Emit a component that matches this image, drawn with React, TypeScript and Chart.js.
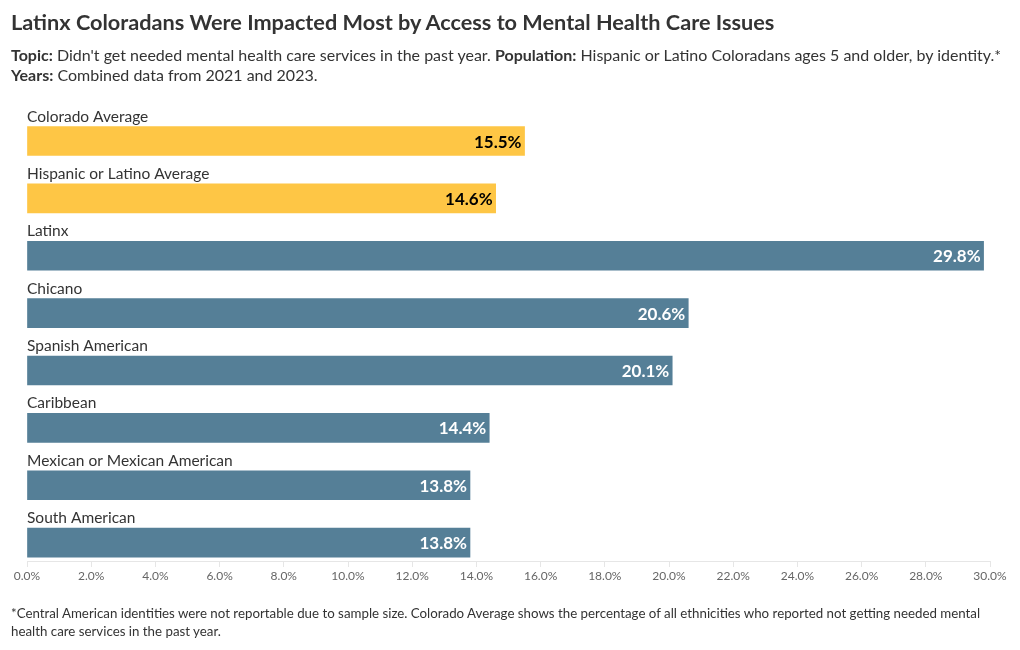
import React, { useEffect, useRef } from "react";
import { Chart, registerables } from "chart.js";

Chart.register(...registerables);

const categories = [
  "Colorado Average",
  "Hispanic or Latino Average",
  "Latinx",
  "Chicano",
  "Spanish American",
  "Caribbean",
  "Mexican or Mexican American",
  "South American",
];
const values = [15.5, 14.6, 29.8, 20.6, 20.1, 14.4, 13.8, 13.8];
const isAverage = [true, true, false, false, false, false, false, false];
const xTicks = [0, 2, 4, 6, 8, 10, 12, 14, 16, 18, 20, 22, 24, 26, 28, 30];

const FONT = "Lato, 'Noto Sans', sans-serif";
const YELLOW = "#FEC645";
const BLUE = "#557F97";

const labelPlugin = {
  id: "barLabels",
  afterDatasetsDraw(chart: any) {
    const ctx = chart.ctx;
    const meta = chart.getDatasetMeta(0);
    const area = chart.chartArea;
    ctx.save();
    meta.data.forEach((bar: any, i: number) => {
      const props = bar.getProps(["x", "y", "height"], true);
      const top = props.y - props.height / 2;
      ctx.font = `400 15.5px ${FONT}`;
      ctx.fillStyle = "#333333";
      ctx.textAlign = "left";
      ctx.textBaseline = "alphabetic";
      ctx.fillText(categories[i], area.left, top - 5);
      ctx.font = `700 17px ${FONT}`;
      ctx.fillStyle = isAverage[i] ? "#000000" : "#ffffff";
      ctx.textAlign = "right";
      ctx.textBaseline = "middle";
      ctx.fillText(values[i].toFixed(1) + "%", props.x - 3, props.y + 1);
    });
    ctx.restore();
  },
};

export default function App() {
  const ref = useRef<HTMLCanvasElement>(null);
  useEffect(() => {
    if (!ref.current) return;
    const chart = new Chart(ref.current, {
      type: "bar",
      data: {
        datasets: [
          {
            data: values.map((v, i) => ({ x: v, y: i })),
            backgroundColor: values.map((_, i) => (isAverage[i] ? YELLOW : BLUE)),
            barThickness: 29,
          },
        ],
      },
      options: {
        indexAxis: "y",
        animation: false,
        responsive: false,
        maintainAspectRatio: false,
        layout: { padding: { left: 27, right: 30, top: 100, bottom: 59 } },
        plugins: {
          legend: { display: false },
          tooltip: { enabled: false },
        },
        scales: {
          x: {
            type: "linear",
            min: 0,
            max: 30,
            afterBuildTicks: (scale: any) => {
              scale.ticks = xTicks.map((v) => ({ value: v }));
            },
            afterFit: (scale: any) => {
              scale.height = 30;
            },
            ticks: {
              callback: (v: any) => Number(v).toFixed(1) + "%",
              color: "#666666",
              font: { family: FONT, size: 12 },
              padding: 2,
              maxRotation: 0,
              autoSkip: false,
            },
            grid: {
              drawOnChartArea: false,
              drawTicks: true,
              tickLength: 6,
              color: "#e6e6e6",
            },
            border: { display: true, color: "#e6e6e6" },
          },
          y: {
            type: "linear",
            reverse: true,
            offset: false,
            min: -0.715,
            max: 7.32,
            ticks: { stepSize: 1 },
            display: false,
          },
        },
      },
      plugins: [labelPlugin],
    });
    return () => chart.destroy();
  }, []);

  const textStyle: React.CSSProperties = {
    position: "absolute",
    left: 11,
    fontFamily: FONT,
    color: "#333333",
    margin: 0,
    whiteSpace: "nowrap",
  };

  return (
    <div
      style={{
        position: "fixed",
        left: 0,
        top: 0,
        width: 1020,
        height: 650,
        background: "#ffffff",
        overflow: "hidden",
      }}
    >
      <canvas
        ref={ref}
        width={1020}
        height={650}
        style={{ position: "absolute", left: 0, top: 0, width: 1020, height: 650 }}
      />
      <div style={{ ...textStyle, top: 8, fontSize: 21.7, fontWeight: 700, lineHeight: "28px" }}>
        Latinx Coloradans Were Impacted Most by Access to Mental Health Care Issues
      </div>
      <div style={{ ...textStyle, top: 45, fontSize: 16, lineHeight: "20px" }}>
        <b>Topic:</b> Didn't get needed mental health care services in the past year.{" "}
        <b>Population:</b> Hispanic or Latino Coloradans ages 5 and older, by identity.*
        <br />
        <b>Years:</b> Combined data from 2021 and 2023.
      </div>
      <div style={{ ...textStyle, top: 604, fontSize: 13.3, lineHeight: "18px" }}>
        *Central American identities were not reportable due to sample size. Colorado Average shows the
        percentage of all ethnicities who reported not getting needed mental
        <br />
        health care services in the past year.
      </div>
    </div>
  );
}
